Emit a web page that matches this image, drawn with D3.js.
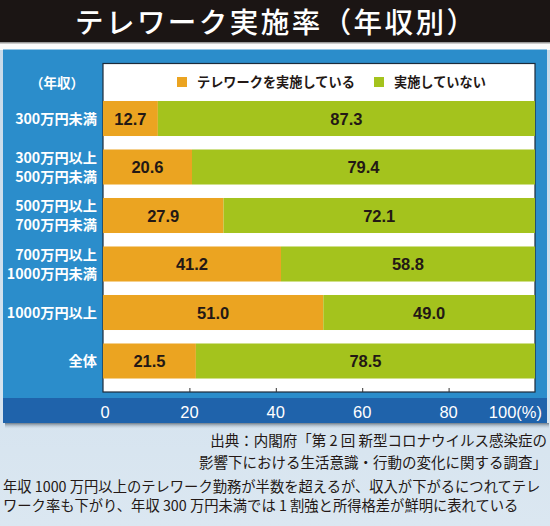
<!DOCTYPE html>
<html><head><meta charset="utf-8">
<script src="https://cdn.jsdelivr.net/npm/d3@7"></script>
<style>
html,body{margin:0;padding:0;background:#fff;}
svg{display:block;}
</style></head>
<body>
<script>
const title = "テレワーク実施率（年収別）";
const categories = ["300万円未満", "300万円以上\n500万円未満", "500万円以上\n700万円未満", "700万円以上\n1000万円未満", "1000万円以上", "全体"];
const doing = [12.7, 20.6, 27.9, 41.2, 51.0, 21.5];
const notDoing = [87.3, 79.4, 72.1, 58.8, 49.0, 78.5];
const seriesNames = ["テレワークを実施している", "実施していない"];
const seriesColors = ["#eba421", "#a4c31d"];
const xTicks = [0, 20, 40, 60, 80, 100];
const xTickLabels = ["0", "20", "40", "60", "80", "100(%)"];
const axisTitle = "（年収）";
const sourceLines = ["出典：内閣府「第 2 回 新型コロナウイルス感染症の", "影響下における生活意識・行動の変化に関する調査」"];
const captionLines = ["年収 1000 万円以上のテレワーク勤務が半数を超えるが、収入が下がるにつれてテレ", "ワーク率も下がり、年収 300 万円未満では 1 割強と所得格差が鮮明に表れている"];

const W = 550, H = 526;
const JP = "'Noto Sans CJK JP','Noto Sans',sans-serif";
const NUM = "'Liberation Sans',Arial,sans-serif";
const svg = d3.select("body").append("svg").attr("width", W).attr("height", H);
const defs = svg.append("defs");
const bg = defs.append("linearGradient").attr("id","bg").attr("x1",0).attr("y1",0).attr("x2",0).attr("y2",1);
bg.append("stop").attr("offset","0%").attr("stop-color","#c6d9e9");
bg.append("stop").attr("offset","100%").attr("stop-color","#dbe7f1");
const sh = defs.append("linearGradient").attr("id","sh").attr("x1",0).attr("y1",0).attr("x2",0).attr("y2",1);
sh.append("stop").attr("offset","0%").attr("stop-color","#6f7c88");
sh.append("stop").attr("offset","100%").attr("stop-color","#c6d9e9").attr("stop-opacity",0);

// background
svg.append("rect").attr("x",0).attr("y",0).attr("width",W).attr("height",H).attr("fill","url(#bg)");
svg.append("rect").attr("x",0).attr("y",42).attr("width",W).attr("height",8).attr("fill","#fbfbfb");
// title bar
svg.append("rect").attr("x",0).attr("y",0).attr("width",W).attr("height",42).attr("fill","#1b1514");
svg.append("rect").attr("x",0).attr("y",42).attr("width",W).attr("height",1.5).attr("fill","#9a9a9a");
svg.append("text").attr("x",W/2).attr("y",33).attr("text-anchor","middle")
  .attr("font-family",JP).attr("font-size",28.5).attr("font-weight",500).attr("fill","#fff")
  .attr("textLength",400).attr("lengthAdjust","spacing").text(title);

// panel
const panel = {x0:3, x1:547, y0:49.5, y1:423};
svg.append("rect").attr("x",panel.x0+2).attr("y",panel.y1).attr("width",panel.x1-panel.x0).attr("height",6).attr("fill","url(#sh)");
svg.append("rect").attr("x",panel.x0).attr("y",panel.y0).attr("width",panel.x1-panel.x0).attr("height",panel.y1-panel.y0).attr("fill","#2b8dcb");
svg.append("rect").attr("x",panel.x0).attr("y",398).attr("width",panel.x1-panel.x0).attr("height",panel.y1-398).attr("fill","#1f63ab");

const plot = {x0:103, x1:535, y0:63.5, y1:392};
svg.append("rect").attr("x",plot.x0).attr("y",plot.y0).attr("width",plot.x1-plot.x0).attr("height",plot.y1-plot.y0)
  .attr("fill","#fff").attr("stroke","#1d2b3a").attr("stroke-width",1.2);

const x = d3.scaleLinear().domain([0,100]).range([plot.x0, plot.x1]);
const y = d3.scaleBand().domain(categories).range([94.25, 385.25]).paddingInner(0.278).paddingOuter(0.139);

const rows = categories.map((c,i)=>({c, a:doing[i], b:notDoing[i]}));
const g = svg.append("g");
g.selectAll("rect.a").data(rows).join("rect").attr("class","a")
  .attr("x",x(0)).attr("y",d=>y(d.c)).attr("width",d=>x(d.a)-x(0)).attr("height",y.bandwidth()).attr("fill",seriesColors[0]);
g.selectAll("rect.b").data(rows).join("rect").attr("class","b")
  .attr("x",d=>x(d.a)).attr("y",d=>y(d.c)).attr("width",d=>x(d.a+d.b)-x(d.a)).attr("height",y.bandwidth()).attr("fill",seriesColors[1]);

g.selectAll("text.va").data(rows).join("text").attr("class","va")
  .attr("x",d=>x(d.a/2)).attr("y",d=>y(d.c)+y.bandwidth()/2+6)
  .attr("text-anchor","middle").attr("font-family",NUM).attr("font-weight","bold").attr("font-size",16.5).attr("fill","#231815")
  .text(d=>d.a.toFixed(1));
g.selectAll("text.vb").data(rows).join("text").attr("class","vb")
  .attr("x",d=>x(d.a+d.b/2)).attr("y",d=>y(d.c)+y.bandwidth()/2+6)
  .attr("text-anchor","middle").attr("font-family",NUM).attr("font-weight","bold").attr("font-size",16.5).attr("fill","#231815")
  .text(d=>d.b.toFixed(1));

// inner tick marks
const ax = svg.append("g").attr("transform",`translate(0,${plot.y1})`)
  .call(d3.axisTop(x).tickValues(xTicks.slice(1,-1)).tickSize(4).tickFormat(""));
ax.select(".domain").remove();
ax.selectAll("line").attr("stroke","#333");

// tick labels
svg.selectAll("text.xt").data(xTicks).join("text").attr("class","xt")
  .attr("x",(d,i)=> i===xTicks.length-1 ? x(d)+7 : x(d)+(i===0?2:0))
  .attr("y",418)
  .attr("text-anchor",(d,i)=> i===xTicks.length-1 ? "end" : "middle")
  .attr("font-family","'Liberation Sans',Arial,sans-serif").attr("font-size",16.5).attr("fill","#fff")
  .text((d,i)=>xTickLabels[i]);

// y labels
const yl = svg.selectAll("text.yl").data(categories).join("text").attr("class","yl")
  .attr("text-anchor","end").attr("font-family",JP).attr("font-weight","bold").attr("font-size",14.2).attr("fill","#fff");
yl.each(function(c){
  const lines = c.split("\n");
  const cy = y(c)+y.bandwidth()/2;
  const lh = 19;
  d3.select(this).selectAll("tspan").data(lines).join("tspan")
    .attr("x",97).attr("y",(l,i)=> cy + 5 + (i-(lines.length-1)/2)*lh).text(l=>l);
});
svg.append("text").attr("x",57).attr("y",88).attr("text-anchor","middle")
  .attr("font-family",JP).attr("font-weight","bold").attr("font-size",13.5).attr("fill","#fff").text(axisTitle);

// legend
const legX = [177, 374];
seriesNames.forEach((n,i)=>{
  svg.append("rect").attr("x",legX[i]).attr("y",77).attr("width",10).attr("height",10).attr("fill",seriesColors[i]);
  svg.append("text").attr("x",legX[i]+20).attr("y",87).attr("font-family",JP).attr("font-weight","bold")
    .attr("font-size",13.2).attr("fill","#231815").text(n);
});

// source
svg.selectAll("text.src").data(sourceLines).join("text").attr("class","src")
  .attr("x",547).attr("y",(d,i)=>446+i*22).attr("text-anchor","end")
  .attr("font-family",JP).attr("font-size",14.5).attr("fill","#231815").text(d=>d);
// caption
svg.selectAll("text.cap").data(captionLines).join("text").attr("class","cap")
  .attr("x",3).attr("y",(d,i)=>492+i*19)
  .attr("font-family",JP).attr("font-size",14.3).attr("fill","#231815").text(d=>d);
</script>
</body></html>
